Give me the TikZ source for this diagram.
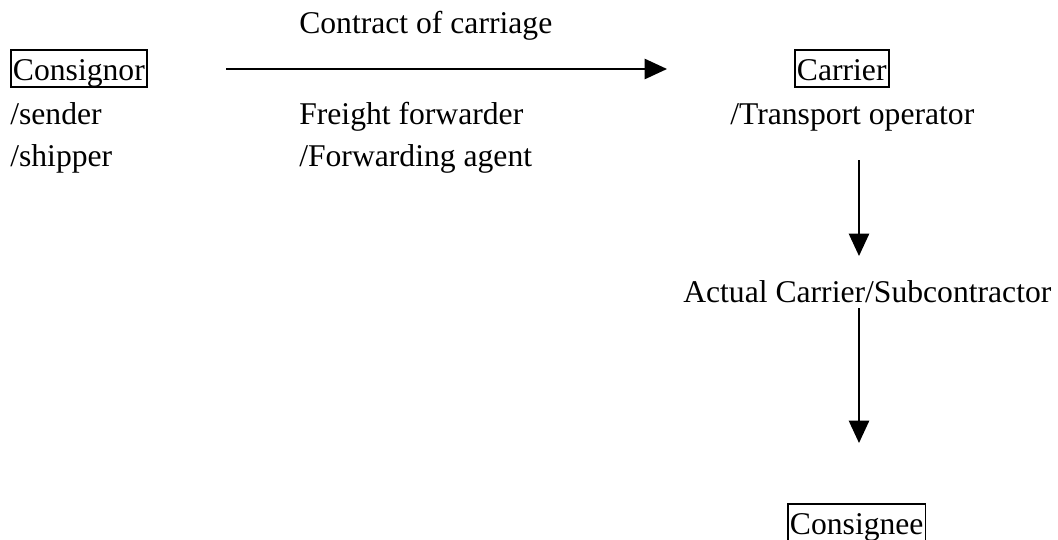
\documentclass[tikz,border=0pt]{standalone}
\usepackage{fontspec}
\setmainfont{Liberation Serif}
\usepackage{tikz}
\usetikzlibrary{positioning,arrows.meta}

\begin{document}
\begin{tikzpicture}[
  x=0.025cm, y=-0.025cm,
  font=\fontsize{22.5}{27}\selectfont,
  txt/.style={anchor=base west, inner sep=0pt},
  box/.style={draw, line width=1.4pt, anchor=base west, inner xsep=1.4pt, inner ysep=0pt,
    text height=21.4pt, text depth=5pt},
  arr/.style={-{Triangle[length=16pt, width=14.5pt]}, line width=1.3pt}
]
\useasboundingbox (0,0) rectangle (1058,539);
\node[txt] (contract) at (299,33) {Contract of carriage};
\node[box] (consignor) at (10,80) {Consignor};
\node[txt] (sender) at (10,124) {/sender};
\node[txt] (shipper) at (10,166) {/shipper};
\node[txt] (freight) at (299,124) {Freight forwarder};
\node[txt] (agent) at (299,166) {/Forwarding agent};
\node[box] (carrier) at (794,80) {Carrier};
\node[txt] (operator) at (730,124) {/Transport operator};
\node[txt] (actual) at (683,302) {Actual Carrier/Subcontractor};
\node[box] (consignee) at (787,534) {Consignee};
\coordinate (h0) at (226,69);
\coordinate (h1) at (667,69);
\coordinate (v0) at (859,160);
\coordinate (v1) at (859,256);
\coordinate (v2) at (859,308);
\coordinate (v3) at (859,443);
\draw[arr] (h0) -- (h1);
\draw[arr] (v0) -- (v1);
\draw[arr] (v2) -- (v3);
\end{tikzpicture}
\end{document}
